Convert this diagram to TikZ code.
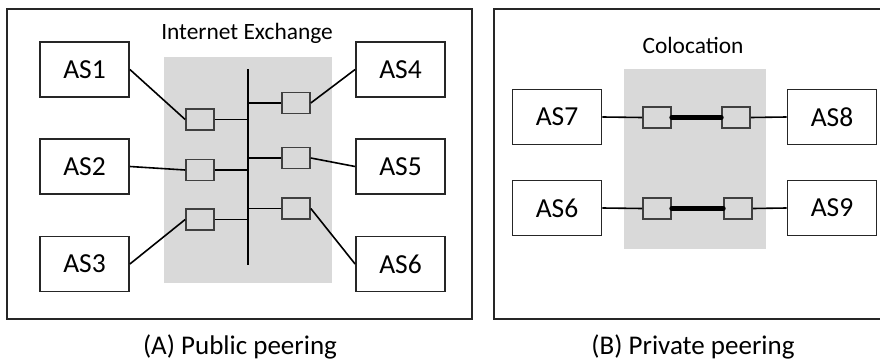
\documentclass[tikz,border=0pt]{standalone}
\usepackage{fontspec}
\setmainfont{Carlito}
\tikzset{>=latex}
\definecolor{zonegray}{HTML}{D9D9D9}
\tikzset{
  asbox/.style={draw=black!85,line width=1.8pt,fill=white,minimum width=89pt,
                minimum height=55pt,font=\fontsize{27.5}{30}\selectfont},
  port/.style={draw=black!75,line width=1.6pt,fill=zonegray,minimum width=28pt,
               minimum height=21pt,inner sep=0pt},
  link/.style={line width=1.6pt},
  trunk/.style={line width=5pt,line cap=round},
  title/.style={font=\fontsize{23.4}{26}\selectfont},
  caption/.style={font=\fontsize{27}{30}\selectfont},
}

\begin{document}
\begin{tikzpicture}[x=1pt,y=-1pt]
  \useasboundingbox (0,0) rectangle (880,361);
  % frames
  \draw[line width=1.8pt,black!85] (7,9) rectangle (472,319);
  \draw[line width=1.8pt,black!85] (900,9) -- (494,9) -- (494,319) -- (900,319);
  % shaded areas
  \fill[zonegray] (164,57) rectangle (332,283);
  \fill[zonegray] (624,69) rectangle (766,249);
  \node[title] (ixname) at (247,33) {Internet Exchange};
  \node[title] (coloname) at (693,45) {Colocation};

  % (A) public peering
  \node[asbox] (as1) at (84.5,69.5) {AS1};
  \node[asbox] (as2) at (84.5,166.5) {AS2};
  \node[asbox] (as3) at (84.5,264) {AS3};
  \node[asbox] (as4) at (400.5,69.5) {AS4};
  \node[asbox] (as5) at (400.5,166.5) {AS5};
  \node[asbox] (as6) at (400.5,264) {AS6};
  \node[port] (p1) at (200,119.5) {};
  \node[port] (p2) at (200,170) {};
  \node[port] (p3) at (200,219.5) {};
  \node[port] (p4) at (296,103) {};
  \node[port] (p5) at (296,158) {};
  \node[port] (p6) at (296,208.5) {};
  % switch fabric
  \coordinate (bustop) at (248,69);
  \coordinate (busbot) at (248,265);
  \draw[line width=2.6pt] (bustop) -- (busbot);
  \draw[link] (p1.east) -- (p1.east -| bustop);
  \draw[link] (p2.east) -- (p2.east -| bustop);
  \draw[link] (p3.east) -- (p3.east -| bustop);
  \draw[link] (p4.west) -- (p4.west -| bustop);
  \draw[link] (p5.west) -- (p5.west -| bustop);
  \draw[link] (p6.west) -- (p6.west -| bustop);
  \draw[link] (as1.east) -- (p1.west);
  \draw[link] (as2.east) -- (p2.west);
  \draw[link] (as3.east) -- (p3.west);
  \draw[link] (as4.west) -- (p4.east);
  \draw[link] (as5.west) -- (p5.east);
  \draw[link] (as6.west) -- (p6.east);
  \node[caption] (capa) at (240,347) {(A) Public peering};

  % (B) private peering
  \node[asbox] (as7) at (557,117) {AS7};
  \node[asbox] (as6b) at (557,208) {AS6};
  \node[asbox] (as8) at (832,117) {AS8};
  \node[asbox] (as9) at (832,208) {AS9};
  \node[port] (q1) at (657,117.5) {};
  \node[port] (q2) at (736,117.5) {};
  \node[port] (q3) at (657,208.5) {};
  \node[port] (q4) at (738,208.5) {};
  \draw[link] (as7.east) -- (q1.west);
  \draw[link] (q2.east) -- (as8.west);
  \draw[link] (as6b.east) -- (q3.west);
  \draw[link] (q4.east) -- (as9.west);
  \draw[trunk] (q1.east) -- (q2.west);
  \draw[trunk] (q3.east) -- (q4.west);
  \node[caption] (capb) at (693,347) {(B) Private peering};
\end{tikzpicture}
\end{document}
